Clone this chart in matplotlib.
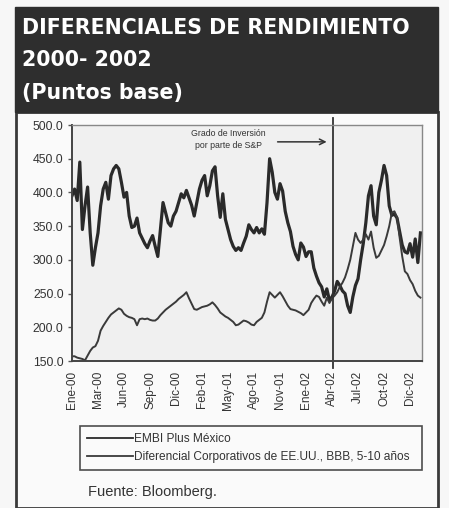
#!/usr/bin/env python3
"""Diferenciales de rendimiento 2000-2002 (puntos base)"""

import matplotlib
matplotlib.use("Agg")
import matplotlib.pyplot as plt
from matplotlib.patches import Rectangle

plt.rcParams['font.family'] = ['Liberation Sans', 'DejaVu Sans']

# etiquetas del eje x (una cada 10 observaciones)
tick_labels = ['Ene-00', 'Mar-00', 'Jun-00', 'Sep-00', 'Dic-00', 'Feb-01', 'May-01',
               'Ago-01', 'Nov-01', 'Ene-02', 'Abr-02', 'Jul-02', 'Oct-02', 'Dic-02']
tick_step = 10
grado_inversion = 'Abr-02'

# EMBI Plus Mexico (pb)
embi = [395, 405, 388, 445, 345, 380, 408, 340, 292, 318,
        340, 380, 405, 415, 390, 425, 435, 440, 435, 415,
        393, 400, 365, 348, 350, 362, 340, 332, 324, 318,
        328, 336, 320, 305, 345, 385, 370, 355, 350, 365,
        372, 385, 398, 392, 403, 392, 381, 365, 385, 405,
        418, 425, 395, 410, 432, 438, 395, 363, 398, 360,
        345, 330, 320, 314, 318, 314, 325, 335, 352, 345,
        340, 348, 340, 346, 338, 385, 450, 430, 400, 390,
        413, 402, 372, 355, 342, 320, 308, 300, 325, 319,
        305, 312, 312, 288, 276, 266, 260, 245, 257, 240,
        245, 254, 268, 262, 254, 250, 232, 222, 245, 262,
        272, 300, 324, 355, 395, 410, 365, 352, 400, 418,
        440, 425, 380, 366, 368, 362, 342, 322, 312, 310,
        324, 304, 331, 296, 340]

# Diferencial corporativos EE.UU. BBB 5-10 anios (pb)
corp = [157, 157, 155, 154, 153, 151, 158, 165, 170, 172,
        180, 195, 202, 208, 214, 219, 222, 225, 228, 226,
        220, 217, 215, 214, 212, 203, 212, 213, 212, 213,
        211, 210, 210, 213, 218, 222, 226, 229, 232, 235,
        238, 242, 245, 248, 252, 243, 235, 227, 226, 228,
        230, 231, 232, 234, 237, 233, 228, 222, 219, 216,
        214, 211, 208, 203, 204, 207, 210, 209, 207, 204,
        203, 208, 211, 214, 222, 238, 252, 248, 244, 248,
        252, 246, 239, 232, 227, 226, 225, 223, 221, 218,
        222, 226, 236, 242, 247, 245, 238, 232, 244, 236,
        243, 247, 252, 260, 266, 274, 286, 300, 320, 340,
        330, 325, 330, 338, 330, 342, 318, 303, 306, 314,
        322, 335, 350, 370, 372, 363, 333, 305, 283, 279,
        270, 264, 254, 247, 244]

W, H = 449, 508
fig = plt.figure(figsize=(W / 100, H / 100), dpi=100)
fig.patch.set_facecolor('#f7f7f7')

def fx(px):
    return px / W

def fy(py):
    return 1 - py / H

# recuadro general y cabecera oscura
fig.patches.append(Rectangle((fx(16), 0), fx(422), fy(112), transform=fig.transFigure,
                             facecolor='#fafafa', edgecolor='#3a3a3a', linewidth=2,
                             zorder=-5))
fig.patches.append(Rectangle((fx(15), fy(112)), fx(423), 105 / H, transform=fig.transFigure,
                             facecolor='#2e2e2e', edgecolor='#2e2e2e', linewidth=1,
                             zorder=-4))
head = dict(color='white', fontsize=14.8, fontweight='heavy', transform=fig.transFigure,
            va='center', ha='left', family=['DejaVu Sans'])
fig.text(fx(22), fy(28), 'DIFERENCIALES DE RENDIMIENTO', **head)
fig.text(fx(22), fy(60), '2000- 2002', **head)
fig.text(fx(22), fy(93), '(Puntos base)', **head)

ax = fig.add_axes([fx(72), fy(361), fx(422 - 72), (361 - 125) / H])
ax.set_facecolor('#f0f0f0')

x = list(range(len(embi)))
ax.plot(x, embi, color='#2a2a2a', linewidth=2.3, label='EMBI Plus México')
ax.plot(x, corp, color='#3a3a3a', linewidth=1.4,
        label='Diferencial Corporativos de EE.UU., BBB, 5-10 años')

ax.set_ylim(150, 500)
ax.set_xlim(0, 134.6)
ax.set_yticks([150, 200, 250, 300, 350, 400, 450, 500])
ax.set_yticklabels(['%.1f' % v for v in ax.get_yticks()], fontsize=8.8, color='#333333')
ticks = [i * tick_step for i in range(len(tick_labels))]
ax.set_xticks(ticks)
ax.set_xticklabels(tick_labels, rotation=90, fontsize=8.5, color='#333333')
ax.tick_params(axis='x', length=0, pad=7)
ax.tick_params(axis='y', length=3, width=1, color='#555555', pad=3)

for side in ['top', 'right']:
    ax.spines[side].set_color('#888888')
    ax.spines[side].set_linewidth(1)
for side in ['left', 'bottom']:
    ax.spines[side].set_color('#444444')
    ax.spines[side].set_linewidth(1.4)

# cambio de calificacion
xv = tick_labels.index(grado_inversion) * tick_step + 0.5
ax.axvline(xv, ymin=-0.03, ymax=1.03, color='#333333', linewidth=1.3, clip_on=False)
ax.text(60, 487, 'Grado de Inversión', fontsize=6.3, ha='center', va='center', color='#333333')
ax.text(60, 470, 'por parte de S&P', fontsize=6.3, ha='center', va='center', color='#333333')
ax.annotate('', xy=(99, 475), xytext=(78, 475),
            arrowprops=dict(arrowstyle='->', color='#333333', lw=1.1))

leg = ax.legend(loc='lower left', mode='expand',
                bbox_to_anchor=(fx(80), fy(470), fx(342), 45 / H),
                bbox_transform=fig.transFigure, borderaxespad=0, fontsize=8.6,
                frameon=True, fancybox=False, edgecolor='#222222', handlelength=3.9,
                borderpad=0.55, labelspacing=0.55, handletextpad=0.1)
leg.get_frame().set_linewidth(1.2)
leg.get_frame().set_facecolor('#fafafa')
for t in leg.get_texts():
    t.set_color('#333333')
for h in leg.get_lines():
    h.set_linewidth(1.3)

fig.text(fx(88), fy(492), 'Fuente: Bloomberg.', fontsize=10.5, color='#333333',
         va='center', ha='left')

fig.savefig('out.png', dpi=100)
